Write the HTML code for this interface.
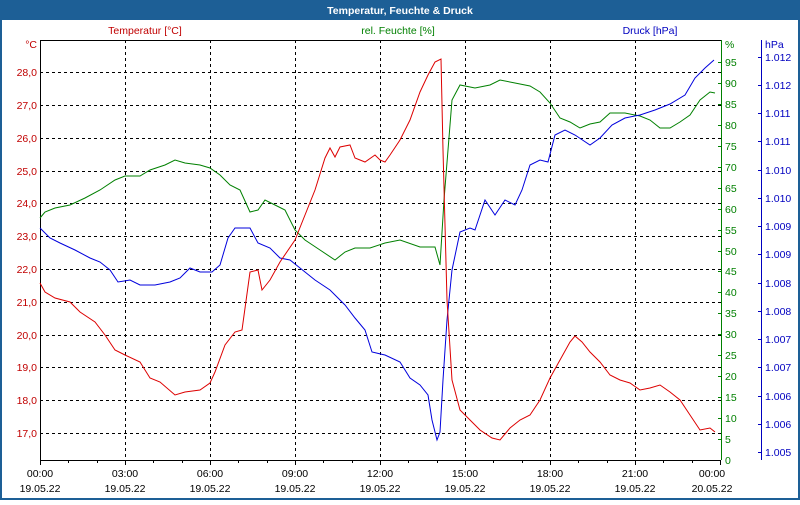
<!DOCTYPE html><html><head><style>
body{margin:0;width:800px;height:500px;overflow:hidden;background:#fff;font-family:"Liberation Sans",sans-serif}
</style></head><body>
<svg width="800" height="500" xmlns="http://www.w3.org/2000/svg" font-family="Liberation Sans, sans-serif" font-size="10.5">
<rect x="0" y="0" width="800" height="500" fill="#1d5f96"/>
<rect x="2" y="20" width="796" height="478" fill="#fff"/>
<text x="400" y="14" fill="#fff" font-weight="bold" font-size="10.5" text-anchor="middle">Temperatur, Feuchte &amp; Druck</text>
<text x="145" y="34" fill="#c00000" text-anchor="middle">Temperatur [°C]</text>
<text x="398" y="34" fill="#008000" text-anchor="middle">rel. Feuchte [%]</text>
<text x="650" y="34" fill="#0000c0" text-anchor="middle">Druck [hPa]</text>
<g stroke="#000" stroke-dasharray="3,3" stroke-width="1">
<path d="M125.5 40V460M210.5 40V460M295.5 40V460M380.5 40V460M465.5 40V460M550.5 40V460M635.5 40V460"/>
<path d="M40 72.5H721M40 105.5H721M40 138.5H721M40 171.5H721M40 203.5H721M40 236.5H721M40 269.5H721M40 302.5H721M40 335.5H721M40 367.5H721M40 400.5H721M40 433.5H721"/>
</g>
<path d="M40.5 40V460.5H721M40 40.5H721" stroke="#000" fill="none"/>
<path d="M721.5 40V460" stroke="#008000"/>
<path d="M761.5 40V460" stroke="#0000c0"/>
<g stroke="#000"><path d="M40.5 460v5M68.5 460v3M97.5 460v3M125.5 460v5M153.5 460v3M182.5 460v3M210.5 460v5M238.5 460v3M267.5 460v3M295.5 460v5M323.5 460v3M352.5 460v3M380.5 460v5M408.5 460v3M437.5 460v3M465.5 460v5M493.5 460v3M522.5 460v3M550.5 460v5M578.5 460v3M607.5 460v3M635.5 460v5M663.5 460v3M692.5 460v3M720.5 460v5"/></g>
<g fill="#c00000" text-anchor="end">
<text x="37" y="48">°C</text>
<text x="37" y="76">28,0</text><text x="37" y="109">27,0</text><text x="37" y="142">26,0</text><text x="37" y="175">25,0</text><text x="37" y="207">24,0</text><text x="37" y="240">23,0</text><text x="37" y="273">22,0</text><text x="37" y="306">21,0</text><text x="37" y="339">20,0</text><text x="37" y="371">19,0</text><text x="37" y="404">18,0</text><text x="37" y="437">17,0</text>
</g>
<g fill="#008000" stroke="none">
<text x="725" y="48">%</text>
<text x="725" y="66">95</text><text x="725" y="87">90</text><text x="725" y="108">85</text><text x="725" y="129">80</text><text x="725" y="150">75</text><text x="725" y="171">70</text><text x="725" y="192">65</text><text x="725" y="213">60</text><text x="725" y="234">55</text><text x="725" y="255">50</text><text x="725" y="275">45</text><text x="725" y="296">40</text><text x="725" y="317">35</text><text x="725" y="338">30</text><text x="725" y="359">25</text><text x="725" y="380">20</text><text x="725" y="401">15</text><text x="725" y="422">10</text><text x="725" y="443">5</text><text x="725" y="464">0</text>
</g>
<g stroke="#008000"><path d="M721 62.5h-3M721 83.5h-3M721 104.5h-3M721 125.5h-3M721 146.5h-3M721 167.5h-3M721 188.5h-3M721 209.5h-3M721 230.5h-3M721 251.5h-3M721 271.5h-3M721 292.5h-3M721 313.5h-3M721 334.5h-3M721 355.5h-3M721 376.5h-3M721 397.5h-3M721 418.5h-3M721 439.5h-3"/></g>
<g fill="#0000c0">
<text x="765" y="48">hPa</text>
<text x="765" y="61">1.012</text><text x="765" y="89">1.012</text><text x="765" y="117">1.011</text><text x="765" y="145">1.011</text><text x="765" y="174">1.010</text><text x="765" y="202">1.010</text><text x="765" y="230">1.009</text><text x="765" y="258">1.009</text><text x="765" y="287">1.008</text><text x="765" y="315">1.008</text><text x="765" y="343">1.007</text><text x="765" y="371">1.007</text><text x="765" y="400">1.006</text><text x="765" y="428">1.006</text><text x="765" y="456">1.005</text>
</g>
<g stroke="#0000c0"><path d="M761 57.5h-3M761 85.5h-3M761 113.5h-3M761 141.5h-3M761 170.5h-3M761 198.5h-3M761 226.5h-3M761 254.5h-3M761 283.5h-3M761 311.5h-3M761 339.5h-3M761 367.5h-3M761 396.5h-3M761 424.5h-3M761 452.5h-3"/></g>
<g fill="#000" text-anchor="middle">
<text x="40" y="477">00:00</text><text x="125" y="477">03:00</text><text x="210" y="477">06:00</text><text x="295" y="477">09:00</text><text x="380" y="477">12:00</text><text x="465" y="477">15:00</text><text x="550" y="477">18:00</text><text x="635" y="477">21:00</text><text x="712" y="477">00:00</text>
<text x="40" y="492">19.05.22</text><text x="125" y="492">19.05.22</text><text x="210" y="492">19.05.22</text><text x="295" y="492">19.05.22</text><text x="380" y="492">19.05.22</text><text x="465" y="492">19.05.22</text><text x="550" y="492">19.05.22</text><text x="635" y="492">19.05.22</text><text x="712" y="492">20.05.22</text>
</g>
<g fill="none" stroke-width="1">
<polyline stroke="#008000" points="40,218 45,212 55,208 70,205 85,198 100,190 115,180 125,176 140,176 150,170 165,165 175,160 185,163 200,165 210,168 220,175 230,185 240,190 250,212 258,210 265,200 275,205 285,210 295,230 305,240 320,250 335,260 345,252 355,248 370,248 385,243 400,240 420,247 435,247 440,265 444,200 448,150 452,100 460,85 475,88 490,85 500,80 515,83 530,86 540,92 550,103 560,118 570,122 580,128 590,124 600,122 610,113 625,113 640,116 650,120 660,128 670,128 680,122 690,115 700,100 710,92 715,93"/>
<polyline stroke="#0000dd" points="40,228 50,238 60,243 75,250 90,258 100,262 110,270 118,282 130,280 140,285 155,285 170,282 180,278 190,268 200,272 212,272 220,265 228,238 235,228 250,228 258,243 270,248 280,258 290,260 300,268 315,280 330,290 345,305 355,318 365,330 372,352 385,355 400,362 410,378 420,385 428,395 432,420 437,440 440,432 443,380 447,320 452,270 460,232 470,228 475,230 485,200 495,215 505,200 515,205 522,190 530,165 540,160 548,162 555,135 565,130 575,135 590,145 600,138 612,125 625,118 640,115 655,110 670,104 685,95 695,78 705,68 714,60"/>
<polyline stroke="#dd0000" points="40,283 45,292 55,298 70,302 80,312 95,322 105,335 115,350 125,355 140,362 150,378 160,382 175,395 185,392 200,390 210,383 215,372 225,345 235,332 242,330 250,272 258,270 262,290 270,280 280,262 295,240 305,215 315,190 325,158 330,148 335,157 340,147 350,145 355,158 365,162 375,155 380,160 385,162 390,155 400,140 410,120 420,92 428,75 435,62 441,59 443,150 447,300 452,380 460,410 470,420 480,430 492,438 500,440 510,428 520,420 530,415 540,400 550,378 560,360 570,342 575,336 582,342 590,352 600,362 610,375 620,380 630,383 640,390 650,388 660,385 670,392 680,400 690,415 700,430 710,428 715,432"/>
</g>
</svg>
</body></html>
